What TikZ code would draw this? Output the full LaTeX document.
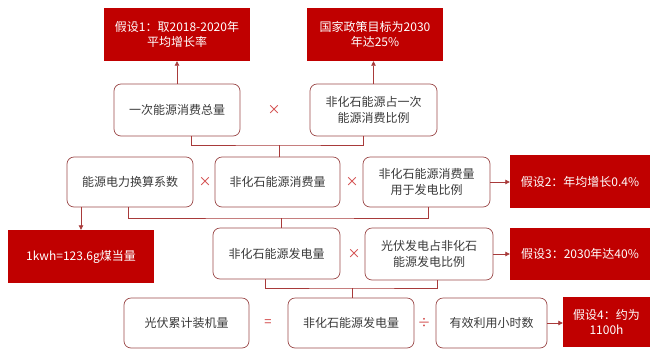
\documentclass[tikz,border=0pt]{standalone}
\usepackage{fontspec}
\newfontfamily\cjk{Noto Sans CJK SC}
\usetikzlibrary{arrows.meta,calc}
\definecolor{redc}{HTML}{C00000}
\definecolor{boxc}{HTML}{9C4A4A}
\definecolor{linec}{HTML}{A83A3A}
\definecolor{textc}{HTML}{3A3A3A}
\definecolor{opc}{HTML}{D04040}
\tikzset{
  box/.style={draw=boxc, line width=0.7pt, rounded corners=7pt, fill=white, text=textc, align=center, inner sep=0pt, font=\cjk\fontsize{12}{15.5}\selectfont},
  redbox/.style={fill=redc, text=white, align=center, inner sep=0pt, font=\cjk\fontsize{12}{15.5}\selectfont},
  op/.style={text=opc, inner sep=0pt, font=\cjk\fontsize{13}{15}\selectfont},
  conn/.style={draw=linec, line width=0.8pt},
  arr/.style={conn, -{Triangle[width=4.5pt,length=4.5pt]}}
}
\begin{document}
\begin{tikzpicture}[x=1pt,y=-1pt]
\fill[white] (0,0) rectangle (651,349);
\useasboundingbox (0,0) rectangle (651,349);
% red boxes
\node[redbox, minimum width=146, minimum height=53] (r1) at (177,34.5) {假设1：取2018-2020年\\平均增长率};
\node[redbox, minimum width=136, minimum height=53] (r2) at (375,34.5) {国家政策目标为2030\\年达25\%};
\node[redbox, minimum width=140, minimum height=53] (r3) at (580,181.5) {假设2：年均增长0.4\%};
\node[redbox, minimum width=146, minimum height=53] (r4) at (81,256.5) {1kwh=123.6g煤当量};
\node[redbox, minimum width=140, minimum height=52] (r5) at (580,254) {假设3：2030年达40\%};
\node[redbox, minimum width=87, minimum height=50] (r6) at (606.5,322) {假设4：约为\\1100h};
% row 1
\node[box, minimum width=126, minimum height=52] (n1) at (177,110) {一次能源消费总量};
\node[box, minimum width=127, minimum height=52] (n2) at (373.5,110) {非化石能源占一次\\能源消费比例};
\node[op] (o1) at (274,110) {×};
% row 2
\node[box, minimum width=126, minimum height=50] (m1) at (130,182) {能源电力换算系数};
\node[box, minimum width=125, minimum height=50] (m2) at (277.5,182) {非化石能源消费量};
\node[box, minimum width=127, minimum height=50] (m3) at (426.5,182) {非化石能源消费量\\用于发电比例};
\node[op] (o2) at (205,182) {×};
\node[op] (o3) at (352,182) {×};
% row 3
\node[box, minimum width=127, minimum height=51] (p1) at (276.5,253.5) {非化石能源发电量};
\node[box, minimum width=128, minimum height=52] (p2) at (429,254) {光伏发电占非化石\\能源发电比例};
\node[op] (o4) at (354,254) {×};
% row 4
\node[box, minimum width=125, minimum height=50] (q1) at (186.5,323) {光伏累计装机量};
\node[box, minimum width=126, minimum height=50] (q2) at (351,323) {非化石能源发电量};
\node[box, minimum width=111, minimum height=50] (q3) at (491.5,323) {有效利用小时数};
\node[op] (o5) at (268,323) {=};
\node[op] (o6) at (424,323) {÷};
% bracket coordinates
\coordinate (b1) at (279,145);
\coordinate (b2) at (281,218);
\coordinate (b3) at (352,288);
% brackets
\draw[conn] ([xshift=14pt]n1.south) |- (b1) -| ([xshift=-10pt]n2.south);
\draw[conn] (b1) -- (b1 |- m2.north);
\draw[conn] ([xshift=-2pt]m1.south) |- (b2) -| ([xshift=1.5pt]m3.south);
\draw[conn] (b2) -- (b2 |- p1.north);
\draw[conn] ([xshift=-11.5pt]p1.south) |- (b3) -| ([xshift=8pt]p2.south);
\draw[conn] (b3) -- (b3 |- q2.north);
% arrows
\draw[arr] (n1.north) -- (r1.south);
\draw[arr] (n2.north) -- (n2.north |- r2.south);
\draw[arr] (r4.north |- m1.south) -- (r4.north);
\draw[arr] (m3.east) -- (m3.east -| r3.west);
\draw[arr] (p2.east) -- (p2.east -| r5.west);
\draw[arr] (q3.east) -- (q3.east -| r6.west);
\end{tikzpicture}
\end{document}
